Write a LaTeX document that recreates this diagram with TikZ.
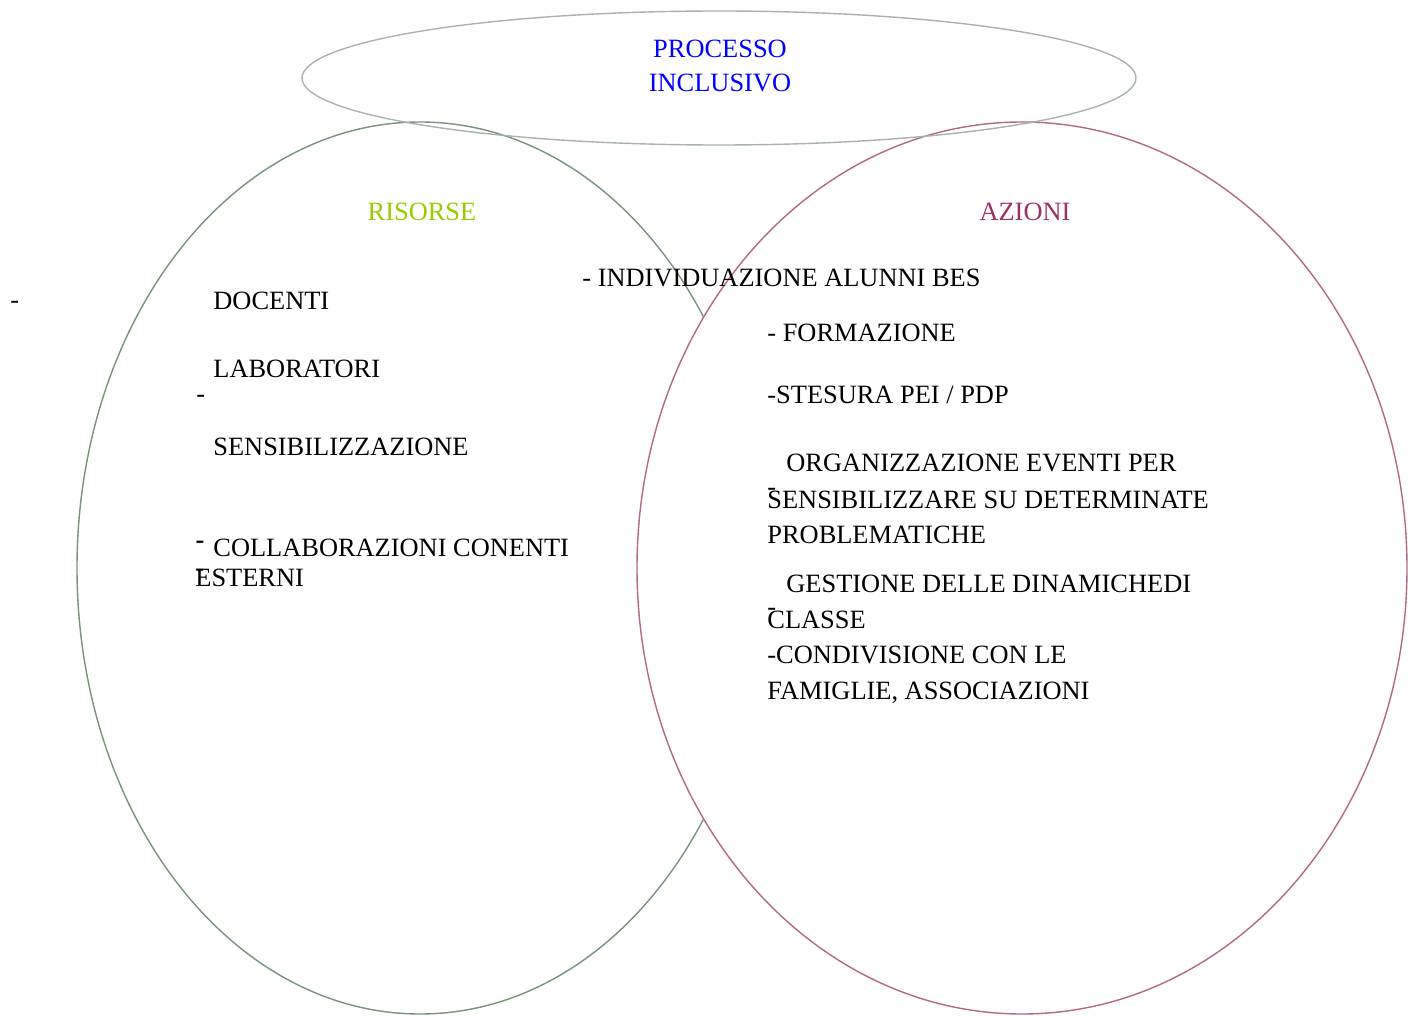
\documentclass[tikz,border=0pt]{standalone}
\usepackage{fontspec}
\setmainfont{Liberation Serif}
\usepackage{tikz}
\definecolor{TitleBlue}{HTML}{0000FF}
\definecolor{RisorseGreen}{HTML}{99CC00}
\definecolor{AzioniRed}{HTML}{993366}
\definecolor{LeftLine}{HTML}{789478}
\definecolor{RightLine}{HTML}{B06A88}
\definecolor{TopLine}{HTML}{A8B2B2}
\newcommand{\stray}[1]{\rlap{\raisebox{#1}{-}}}

\begin{document}
\begin{tikzpicture}[x=0.5pt, y=-0.5pt,
    txt/.style={inner sep=0pt, anchor=base west, font=\fontsize{13.2}{15}\selectfont},
    head/.style={inner sep=0pt, anchor=base, font=\fontsize{13.2}{15}\selectfont}]
      \useasboundingbox (0,0) rectangle (1420,1016);
      % Ellipses
      \draw[LeftLine, line width=0.7pt, fill=white] (420,568) ellipse [x radius=343, y radius=446];
      \draw[RightLine, line width=0.7pt, fill=white] (1022,568) ellipse [x radius=385, y radius=446];
      \draw[TopLine, line width=0.7pt] (719,78) ellipse [x radius=417, y radius=67];
      % Titles
      \node[head, TitleBlue] (proc) at (720,58) {PROCESSO};
      \node[head, TitleBlue] (incl) at (720,92) {INCLUSIVO};
      \node[head, RisorseGreen] (risorse) at (422,221) {RISORSE};
      \node[head, AzioniRed] (azioni) at (1025,221) {AZIONI};
      % Risorse
      \node[txt] (dashA) at (10,309) {-};
      \node[txt] (docenti) at (213,310) {DOCENTI};
      \node[txt] (lab) at (213,378) {LABORATORI};
      \node[txt] (dashB) at (196,402) {-};
      \node[txt] (sens) at (213,455) {SENSIBILIZZAZIONE};
      \node[txt] (collab) at (213,556) {\llap{\raisebox{3.7pt}{\textbf{-}}\hspace{4.5pt}}COLLABORAZIONI CONENTI};
      \node[txt] (esterni) at (195,586) {\stray{4.7pt}ESTERNI};
      % Azioni
      \node[txt] (indiv) at (582,287) {- INDIVIDUAZIONE ALUNNI BES};
      \node[txt] (form) at (767,342) {- FORMAZIONE};
      \node[txt] (stesura) at (767,404) {-STESURA PEI / PDP};
      \node[txt] (organ) at (786,472) {ORGANIZZAZIONE EVENTI PER};
      \node[txt] (sensib) at (767,508) {\stray{6.2pt}SENSIBILIZZARE SU DETERMINATE};
      \node[txt] (probl) at (767,543) {PROBLEMATICHE};
      \node[txt] (gest) at (786,592) {GESTIONE DELLE DINAMICHEDI};
      \node[txt] (classe) at (767,628) {\stray{6.2pt}CLASSE};
      \node[txt] (condiv) at (767,663) {-CONDIVISIONE CON LE};
      \node[txt] (fam) at (767,699) {FAMIGLIE, ASSOCIAZIONI};
\end{tikzpicture}
\end{document}
